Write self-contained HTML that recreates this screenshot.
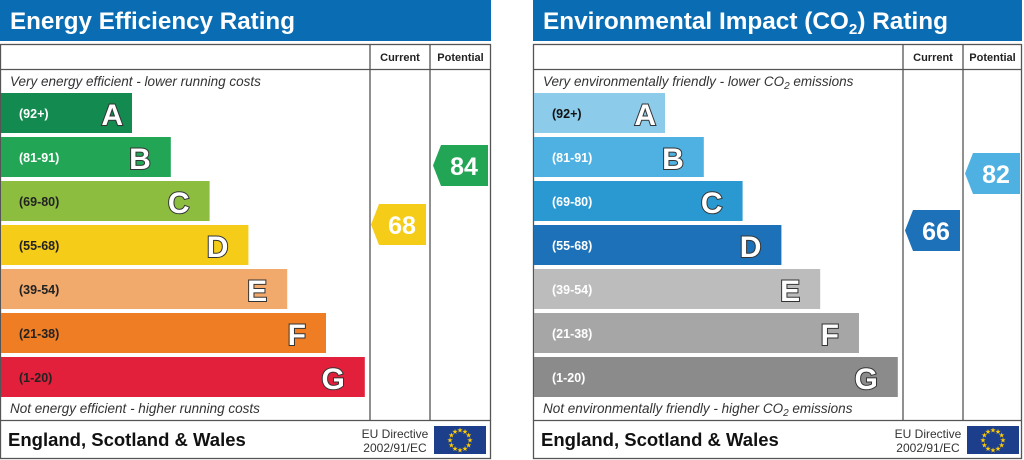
<!DOCTYPE html>
<html><head><meta charset="utf-8"><style>
html,body{margin:0;padding:0;background:#fff;width:1024px;height:460px;overflow:hidden}
svg text{font-family:"Liberation Sans",Arial,sans-serif}
</style></head><body>
<svg id="s" width="1024" height="460" xmlns="http://www.w3.org/2000/svg"></svg>
<script>
const s=document.getElementById('s');let h='';
function panel(x0,x1,c1,c2,title,tl,top,bot,cols,lblColor,cur,pot){
  h+=`<rect x="${x0}" y="0" width="${x1-x0}" height="41" fill="#0a6cb3"/>`;
  h+=`<text x="${x0+10}" y="29" font-size="24" font-weight="bold" fill="#fff" textLength="${tl}" lengthAdjust="spacingAndGlyphs">${title}</text>`;
  h+=`<rect x="${x0+0.5}" y="44.5" width="${x1-x0-1}" height="414" fill="#fff" stroke="#555" stroke-width="1.3"/>`;
  h+=`<line x1="${x0}" y1="69.5" x2="${x1}" y2="69.5" stroke="#555" stroke-width="1.3"/>`;
  h+=`<line x1="${x0}" y1="420.5" x2="${x1}" y2="420.5" stroke="#555" stroke-width="1.3"/>`;
  h+=`<line x1="${c1}" y1="44" x2="${c1}" y2="420" stroke="#555" stroke-width="1.3"/>`;
  h+=`<line x1="${c2}" y1="44" x2="${c2}" y2="420" stroke="#555" stroke-width="1.3"/>`;
  h+=`<text x="${(c1+c2)/2}" y="61" font-size="11" font-weight="bold" text-anchor="middle" fill="#222">Current</text>`;
  h+=`<text x="${(c2+x1)/2}" y="61" font-size="11" font-weight="bold" text-anchor="middle" fill="#222">Potential</text>`;
  h+=`<text x="${x0+10}" y="86" font-size="13.5" font-style="italic" fill="#333">${top}</text>`;
  h+=`<text x="${x0+10}" y="413" font-size="13.5" font-style="italic" fill="#333">${bot}</text>`;
  const L=['A','B','C','D','E','F','G'],R=['(92+)','(81-91)','(69-80)','(55-68)','(39-54)','(21-38)','(1-20)'];
  for(let i=0;i<7;i++){const y=93+i*44,w=132+i*38.8,off=i==0?9:20;
    h+=`<rect x="${x0+1}" y="${y}" width="${w-1}" height="40" fill="${cols[i]}"/>`;
    h+=`<text x="${x0+19}" y="${y+25}" font-size="12.5" font-weight="bold" fill="${lblColor(i)}">${R[i]}</text>`;
    h+=`<text x="${x0+w-off}" y="${y+32}" font-size="30" font-weight="bold" text-anchor="end" fill="#fff" stroke="#333" stroke-width="2" paint-order="stroke">${L[i]}</text>`;}
  h+=`<text x="${x0+8}" y="446" font-size="18.5" font-weight="bold" fill="#111">England, Scotland &amp; Wales</text>`;
  h+=`<text x="${c1+25}" y="438" font-size="12" fill="#333" text-anchor="middle">EU Directive</text>`;
  h+=`<text x="${c1+25}" y="452" font-size="12" fill="#333" text-anchor="middle">2002/91/EC</text>`;
  const fx=c1+64;h+=`<rect x="${fx}" y="426" width="52" height="28" fill="#1d3e8a"/>`;
  for(let k=0;k<12;k++){const a=k*Math.PI/6;h+=`<text x="${fx+26+10*Math.cos(a)}" y="${440+10*Math.sin(a)+2.5}" font-size="7" fill="#fc0" text-anchor="middle">★</text>`;}
  [cur,pot].forEach(p=>{const[x,y,c,v]=p;
    h+=`<polygon points="${x+8},${y} ${x+55},${y} ${x+55},${y+41} ${x+8},${y+41} ${x},${y+20.5}" fill="${c}"/>`;
    h+=`<text x="${x+31}" y="${y+30}" font-size="25" font-weight="bold" text-anchor="middle" fill="#fff">${v}</text>`;});
}
panel(0,491,370,430,'Energy Efficiency Rating',285,'Very energy efficient - lower running costs','Not energy efficient - higher running costs',
 ['#138a4f','#23a556','#8cbd3e','#f5cc17','#f2a96c','#ee7d23','#e3203b'],i=>i<2?'#fff':'#222',[371,204,'#f5cc17','68'],[433,145,'#23a556','84']);
panel(533,1022,903,963,'Environmental Impact (CO<tspan font-size="15" dy="5">2</tspan><tspan dy="-5">) Rating</tspan>',405,
 'Very environmentally friendly - lower CO<tspan font-size="10" dy="3">2</tspan><tspan dy="-3"> emissions</tspan>',
 'Not environmentally friendly - higher CO<tspan font-size="10" dy="3">2</tspan><tspan dy="-3"> emissions</tspan>',
 ['#8ccbea','#4eb1e1','#2a99d2','#1c71b8','#bcbcbc','#a6a6a6','#8b8b8b'],i=>i==0?'#111':'#fff',[905,210,'#1c71b8','66'],[965,153,'#4eb1e1','82']);
s.innerHTML=h;
</script>
</body></html>
